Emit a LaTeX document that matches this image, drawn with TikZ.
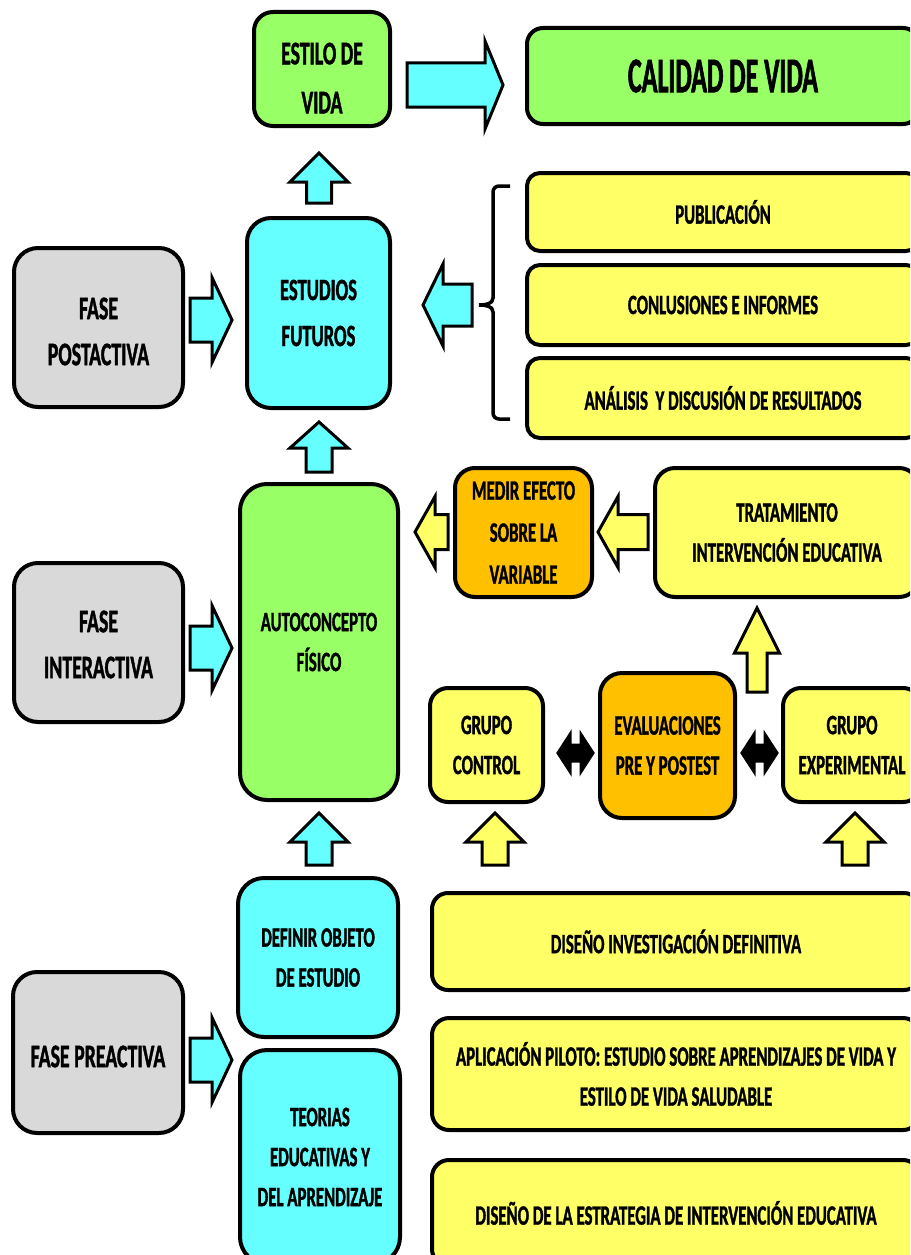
\documentclass[tikz,border=0pt]{standalone}
\usepackage{fontspec}
\setmainfont{Carlito}[FakeStretch=0.6, BoldFeatures={FakeBold=1.2}]
\newfontfamily\titlefont{Carlito}[FakeStretch=0.52, BoldFeatures={FakeBold=1.2}]
\definecolor{boxgreen}{HTML}{99FF66}
\definecolor{boxcyan}{HTML}{66FFFF}
\definecolor{boxgray}{HTML}{D9D9D9}
\definecolor{boxyellow}{HTML}{FFFF66}
\definecolor{boxorange}{HTML}{FFC000}
\tikzset{
  box/.style={draw, line width=4pt, align=center, inner sep=0pt,
    font=\bfseries\fontsize{28}{40}\selectfont},
  bigtext/.style={align=center, font=\bfseries\fontsize{33}{46}\selectfont},
  blockarrow/.style={draw, line width=3pt, line join=miter},
  % straight block arrow pointing along +x: length, head length, shaft half width, head half width
  pics/barrow/.style n args={4}{code={
    \path[pic actions] (0,-#3) -- ({#1-#2},-#3) -- ({#1-#2},-#4) -- (#1,0)
      -- ({#1-#2},#4) -- ({#1-#2},#3) -- (0,#3) -- cycle;
  }},
  % two-headed block arrow along +x
  pics/dbarrow/.style n args={4}{code={
    \path[pic actions] (0,0) -- (#2,#4) -- (#2,#3) -- ({#1-#2},#3) -- ({#1-#2},#4)
      -- (#1,0) -- ({#1-#2},-#4) -- ({#1-#2},-#3) -- (#2,-#3) -- (#2,-#4) -- cycle;
  }},
}
\begin{document}
\begin{tikzpicture}[x=1pt, y=-1pt]
\useasboundingbox (0,0) rectangle (910,1255);
\clip (0,0) rectangle (910,1255);

% ---- top row ----
\node[box, fill=boxgreen, minimum width=136pt, minimum height=114pt, rounded corners=19pt]
  (estilo) at (322,69) {};
\node[bigtext, font=\bfseries\fontsize{33}{49}\selectfont] (estilotxt) at ([yshift=-9pt]estilo.center) {ESTILO DE\\VIDA};
\node[box, fill=boxgreen, minimum width=392pt, minimum height=96pt, rounded corners=16pt,
  font=\titlefont\bfseries\fontsize{50}{60}\selectfont]
  (calidad) at (723,76) {CALIDAD DE VIDA};

% ---- post-active phase ----
\node[box, fill=boxgray, minimum width=169pt, minimum height=159pt, rounded corners=24pt]
  (post) at (98.5,327.5) {};
\node[bigtext] (posttxt) at ([yshift=-4pt]post.center) {FASE\\POSTACTIVA};
\node[box, fill=boxcyan, minimum width=143pt, minimum height=190pt, rounded corners=24pt,
  font=\bfseries\fontsize{31}{46}\selectfont]
  (futuros) at (318.5,313) {ESTUDIOS\\FUTUROS};
\node[box, fill=boxyellow, minimum width=392pt, minimum height=78pt, rounded corners=13pt]
  (publi) at (723,212) {PUBLICACIÓN};
\node[box, fill=boxyellow, minimum width=392pt, minimum height=80pt, rounded corners=13pt]
  (concl) at (723,305) {CONLUSIONES E INFORMES};
\node[box, fill=boxyellow, minimum width=392pt, minimum height=80pt, rounded corners=13pt]
  (anal) at (723,398) {ANÁLISIS\ \ Y DISCUSIÓN DE RESULTADOS};

% ---- interactive phase ----
\node[box, fill=boxgray, minimum width=169pt, minimum height=159pt, rounded corners=24pt]
  (inter) at (98.5,642.5) {};
\node[bigtext] (intertxt) at ([yshift=-2pt]inter.center) {FASE\\INTERACTIVA};
\node[box, fill=boxgreen, minimum width=158pt, minimum height=316pt, rounded corners=27pt]
  (auto) at (319,642) {AUTOCONCEPTO\\FÍSICO};
\node[box, fill=boxorange, minimum width=137pt, minimum height=129pt, rounded corners=20pt,
  font=\bfseries\fontsize{28}{42}\selectfont]
  (medir) at (523.5,532.5) {MEDIR EFECTO\\SOBRE LA\\VARIABLE};
\node[box, fill=boxyellow, minimum width=264pt, minimum height=129pt, rounded corners=20pt]
  (trat) at (787,532.5) {TRATAMIENTO\\INTERVENCIÓN EDUCATIVA};
\node[box, fill=boxyellow, minimum width=113pt, minimum height=114pt, rounded corners=18pt]
  (control) at (486.5,745) {GRUPO\\CONTROL};
\node[box, fill=boxorange, minimum width=135pt, minimum height=145pt, rounded corners=22pt]
  (eval) at (667.5,745.5) {EVALUACIONES\\PRE Y POSTEST};
\node[box, fill=boxyellow, minimum width=138pt, minimum height=114pt, rounded corners=18pt]
  (exper) at (852,745) {GRUPO\\EXPERIMENTAL};

% ---- pre-active phase ----
\node[box, fill=boxgray, minimum width=170pt, minimum height=161pt, rounded corners=24pt]
  (pre) at (98,1052.5) {};
\node[bigtext] (pretxt) at ([yshift=-4pt]pre.center) {FASE PREACTIVA};
\node[box, fill=boxcyan, minimum width=160pt, minimum height=159pt, rounded corners=26pt]
  (definir) at (318,957.5) {DEFINIR OBJETO\\DE ESTUDIO};
\node[box, fill=boxcyan, minimum width=160pt, minimum height=214pt, rounded corners=27pt]
  (teorias) at (320,1157) {TEORIAS\\EDUCATIVAS Y\\DEL APRENDIZAJE};
\node[box, fill=boxyellow, minimum width=488pt, minimum height=97pt, rounded corners=16pt]
  (disdef) at (676,941.5) {DISEÑO INVESTIGACIÓN DEFINITIVA};
\node[box, fill=boxyellow, minimum width=488pt, minimum height=112pt, rounded corners=17pt]
  (piloto) at (676,1074) {APLICACIÓN PILOTO: ESTUDIO SOBRE APRENDIZAJES DE VIDA Y\\ESTILO DE VIDA SALUDABLE};
\node[box, fill=boxyellow, minimum width=488pt, minimum height=106pt, rounded corners=17pt]
  (estrat) at (676,1213) {DISEÑO DE LA ESTRATEGIA DE INTERVENCIÓN EDUCATIVA};

% ---- block arrows ----
\pic[blockarrow, fill=boxcyan] at (407,85) {barrow={96}{18}{22}{44}};
\pic[blockarrow, fill=boxcyan, rotate=90] at (319,203) {barrow={50}{29}{12.5}{29}};
\pic[blockarrow, fill=boxcyan, rotate=90] at (319,472) {barrow={50}{26}{13}{29}};
\pic[blockarrow, fill=boxcyan, rotate=90] at (319,865) {barrow={52}{29}{13}{29}};
\pic[blockarrow, fill=boxcyan] at (190,320) {barrow={42}{20}{22}{42.5}};
\pic[blockarrow, fill=boxcyan] at (190,648) {barrow={42}{20}{22}{42.5}};
\pic[blockarrow, fill=boxcyan] at (190,1060) {barrow={42}{20}{22}{42.5}};
\pic[blockarrow, fill=boxcyan, rotate=180] at (472,305) {barrow={49}{20}{21}{41}};
\pic[blockarrow, fill=boxyellow, rotate=180] at (448,532) {barrow={33}{20}{17.5}{35.5}};
\pic[blockarrow, fill=boxyellow, rotate=180] at (648,532) {barrow={50}{20}{17.5}{35.5}};
\pic[blockarrow, fill=boxyellow, rotate=90] at (757,692) {barrow={84}{45}{10}{22.5}};
\pic[blockarrow, fill=boxyellow, rotate=90] at (495,865) {barrow={52}{29}{13}{29}};
\pic[blockarrow, fill=boxyellow, rotate=90] at (855,865) {barrow={52}{29}{13}{29}};
\pic[blockarrow, fill=black] at (558,753) {dbarrow={35}{12}{8}{18.5}};
\pic[blockarrow, fill=black] at (742,753) {dbarrow={35}{12}{8}{18.5}};

% ---- brace grouping the three results boxes ----
\draw[line width=3.5pt] (510,186) -- (499,186) to[out=180,in=90] (493,192) -- (493,298)
  to[out=-90,in=0] (479,305) to[out=0,in=90] (493,312) -- (493,413)
  to[out=-90,in=180] (499,419) -- (510,419);
\end{tikzpicture}
\end{document}
